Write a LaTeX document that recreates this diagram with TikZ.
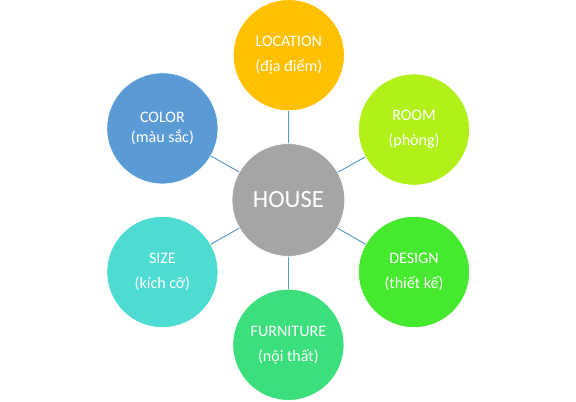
\documentclass[tikz,border=0pt]{standalone}
\usepackage{fontspec}
\setmainfont{Carlito}
\usepackage{tikz}
\usepackage{xcolor}
\definecolor{locgold}{HTML}{FFC000}
\definecolor{roomlime}{HTML}{B2F019}
\definecolor{designgreen}{HTML}{45E92D}
\definecolor{furngreen}{HTML}{3BE07C}
\definecolor{sizeteal}{HTML}{4DDBD2}
\definecolor{colorblue}{HTML}{5B9BD5}
\definecolor{housegrey}{HTML}{A5A5A5}
\definecolor{linkblue}{HTML}{5B9BD5}

\begin{document}
\begin{tikzpicture}[
        bubble/.style={circle, draw=white, line width=0.5pt, minimum size=2.78cm, inner sep=0pt, text=white, align=center, font=\fontsize{11.4}{17.8}\selectfont},
        link/.style={linkblue, line width=0.7pt}]
        	\useasboundingbox (0,0) rectangle (14.4,10.05);
        	\node[bubble, fill=housegrey, minimum size=2.82cm, font=\fontsize{17.6}{20}\selectfont] (H) at (7.21, 5.05) {HOUSE};
        	\node[bubble, fill=locgold] (L) at (7.22, 8.67) {LOCATION\\(địa điểm)};
        	\node[bubble, fill=roomlime] (R) at (10.35, 6.81) {ROOM\\(phòng)};
        	\node[bubble, fill=designgreen] (D) at (10.35, 3.25) {DESIGN\\(thiết kế)};
        	\node[bubble, fill=furngreen] (F) at (7.21, 1.43) {FURNITURE\\(nội thất)};
        	\node[bubble, fill=sizeteal] (S) at (4.06, 3.25) {SIZE\\(kích cỡ)};
        	\node[bubble, fill=colorblue, font=\fontsize{11.4}{13.6}\selectfont] (C) at (4.06, 6.84) {COLOR\\(màu sắc)};
        	\draw[link] (H) -- (L);
        	\draw[link] (H) -- (R);
        	\draw[link] (H) -- (D);
        	\draw[link] (H) -- (F);
        	\draw[link] (H) -- (S);
        	\draw[link] (H) -- (C);
\end{tikzpicture}
\end{document}
